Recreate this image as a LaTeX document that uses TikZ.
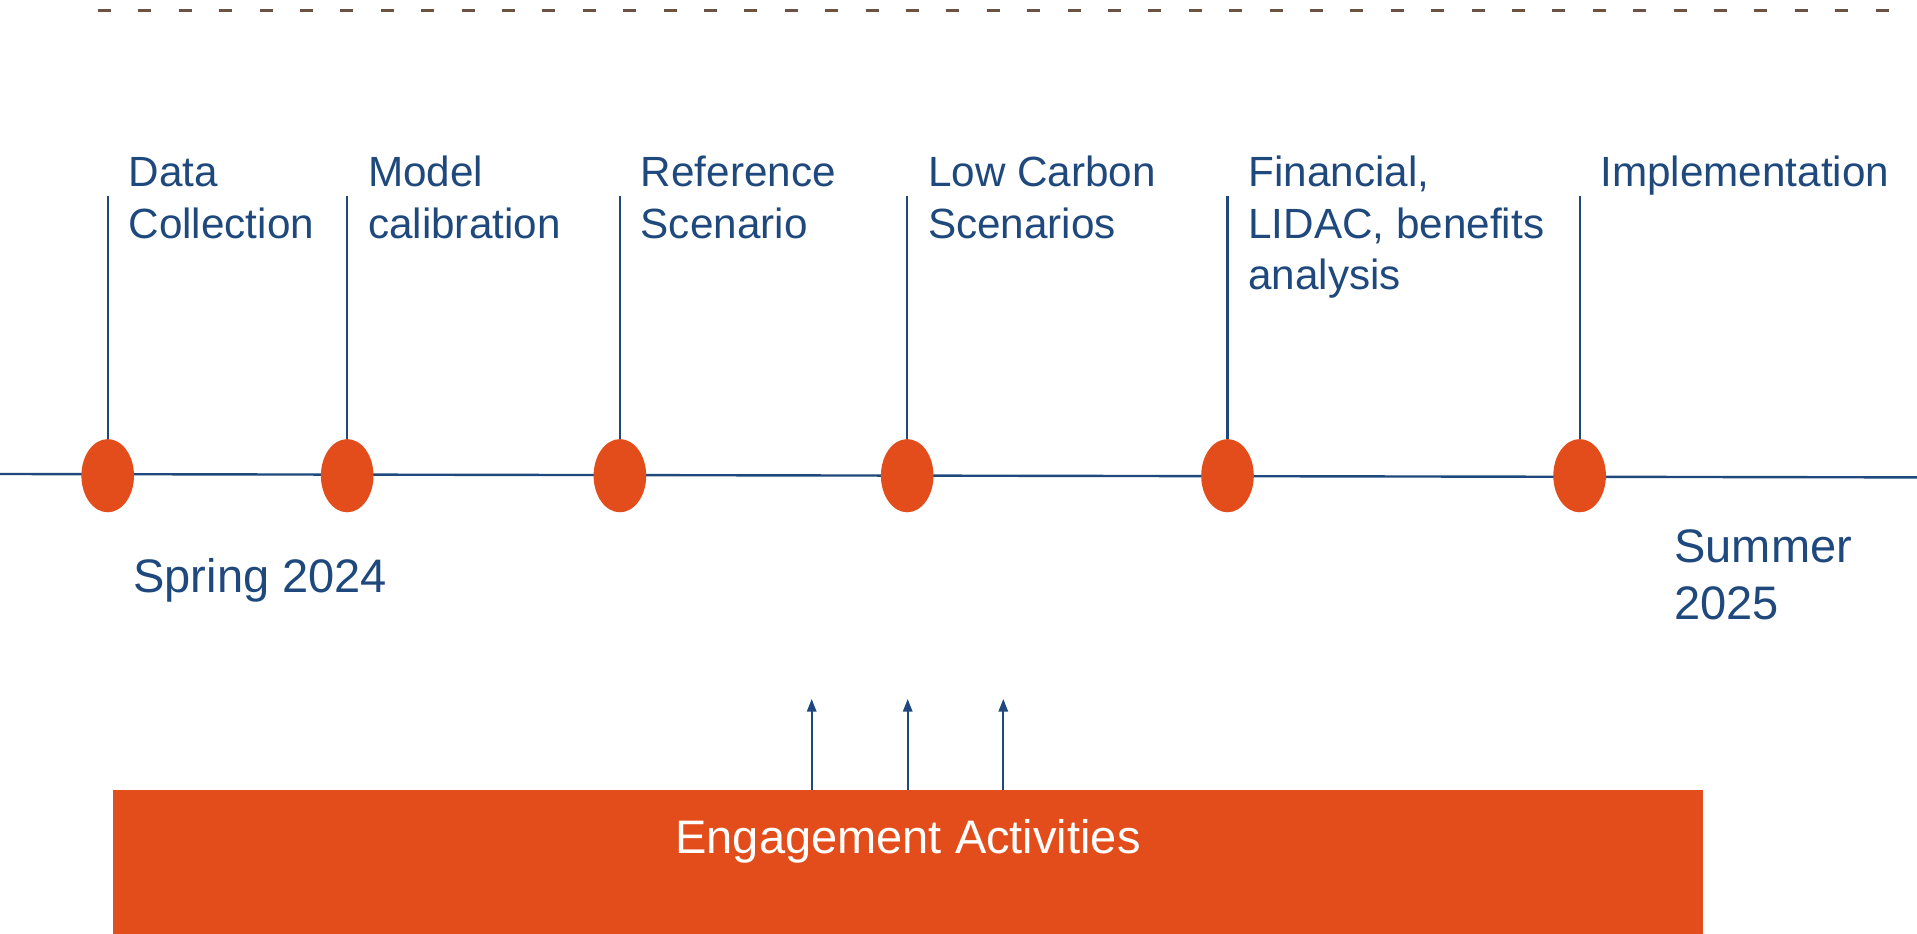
\documentclass[tikz,border=0pt]{standalone}
\usepackage{fontspec}
\setmainfont{Liberation Sans}
\usetikzlibrary{arrows.meta}
\usetikzlibrary{shapes.geometric}
\definecolor{tlblue}{RGB}{31,73,125}
\definecolor{tlorange}{RGB}{227,77,28}
\definecolor{tlbrown}{RGB}{107,83,68}

\begin{document}
\begin{tikzpicture}[>={Triangle[length=6.3bp,width=4.7bp]},
  milestone/.style={ellipse,fill=tlorange,draw=none,minimum width=26.3bp,minimum height=36.6bp,inner sep=0pt},
  phase/.style={anchor=base west,align=left,inner sep=0pt,text=tlblue,font=\fontsize{21.2}{25.8}\selectfont},
  season/.style={anchor=base west,align=left,inner sep=0pt,text=tlblue,font=\fontsize{23.6}{28.6}\selectfont},
]
\useasboundingbox (0bp,0bp) rectangle (958.5bp,467bp);
%%
\draw [tlbrown,line width=1.5bp,dash pattern=on 6.5bp off 13.7bp] (49bp,461.5bp) -- (945bp,461.5bp);
\coordinate (tl_start) at (0bp,230bp);
\coordinate (tl_end) at (958.5bp,228.3bp);
\draw [tlblue,line width=1.2bp] (tl_start) -- (tl_end);
%
\node (node_0) at (53.85bp,229.15bp) [milestone] {};
  \node (node_1) at (173.6bp,229.15bp) [milestone] {};
  \node (node_2) at (309.95bp,229.15bp) [milestone] {};
  \node (node_3) at (453.6bp,229.15bp) [milestone] {};
  \node (node_4) at (613.75bp,229.15bp) [milestone] {};
  \node (node_5) at (789.8bp,229.15bp) [milestone] {};
  \draw [tlblue,line width=1.1bp] (node_0.north) -- (node_0.north |- 0,369bp);
  \draw [tlblue,line width=1.1bp] (node_1.north) -- (node_1.north |- 0,369bp);
  \draw [tlblue,line width=1.1bp] (node_2.north) -- (node_2.north |- 0,369bp);
  \draw [tlblue,line width=1.1bp] (node_3.north) -- (node_3.north |- 0,369bp);
  \draw [tlblue,line width=1.1bp] (node_4.north) -- (node_4.north |- 0,369bp);
  \draw [tlblue,line width=1.1bp] (node_5.north) -- (node_5.north |- 0,369bp);
%
\node (label_0) at (64.1bp,347.95bp) [phase] {Data\\Collection};
  \node (label_1) at (183.85bp,347.95bp) [phase] {Model\\calibration};
  \node (label_2) at (320.2bp,347.95bp) [phase] {Reference\\Scenario};
  \node (label_3) at (463.85bp,347.95bp) [phase] {Low Carbon\\Scenarios};
  \node (label_4) at (624bp,322.25bp) [phase] {Financial,\\LIDAC, benefits\\analysis};
  \node (label_5) at (800.05bp,373.65bp) [phase] {Implementation};
  \node (start) at (66.5bp,170.5bp) [season] {Spring 2024};
  \node (finish) at (837bp,157.35bp) [season] {Summer\\2025};
%
\node (engage) at (454bp,36bp) [fill=tlorange,draw=none,minimum width=795bp,minimum height=72bp,inner sep=0pt] {};
  \node (engage_text) at (454bp,40.35bp) [anchor=base,inner sep=0pt,text=white,font=\fontsize{23.6}{28.6}\selectfont] {Engagement Activities};
  \coordinate (input_0) at (405.85bp,117.5bp);
  \coordinate (input_1) at (453.85bp,117.5bp);
  \coordinate (input_2) at (501.65bp,117.5bp);
  \draw [tlblue,line width=0.9bp,->] (engage.north -| input_0) -- (input_0);
  \draw [tlblue,line width=0.9bp,->] (engage.north -| input_1) -- (input_1);
  \draw [tlblue,line width=0.9bp,->] (engage.north -| input_2) -- (input_2);
%
\end{tikzpicture}
\end{document}
